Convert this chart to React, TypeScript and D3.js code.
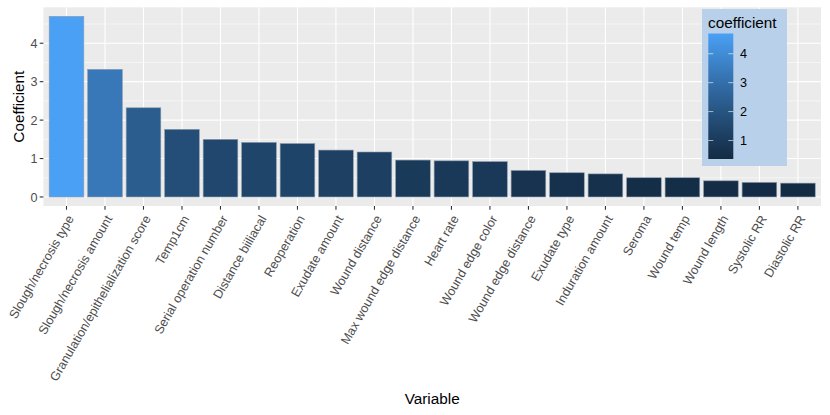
import React from "react";
import * as d3 from "d3";

const categories = [
  "Slough/necrosis type",
  "Slough/necrosis amount",
  "Granulation/epithelialization score",
  "Temp1cm",
  "Serial operation number",
  "Distance biiliacal",
  "Reoperation",
  "Exudate amount",
  "Wound distance",
  "Max wound edge distance",
  "Heart rate",
  "Wound edge color",
  "Wound edge distance",
  "Exudate type",
  "Induration amount",
  "Seroma",
  "Wound temp",
  "Wound length",
  "Systolic RR",
  "Diastolic RR",
];
const coefficients = [4.7, 3.32, 2.32, 1.76, 1.5, 1.42, 1.39, 1.22, 1.17, 0.96, 0.94, 0.92, 0.69, 0.63, 0.6, 0.5, 0.5, 0.42, 0.38, 0.36];
const yTicks = [0, 1, 2, 3, 4];
const yMinor = [0.5, 1.5, 2.5, 3.5, 4.5];
const legendTicks = [1, 2, 3, 4];

const W = 830;
const H = 415;
const panel = { left: 43.4, right: 821, top: 7.3, bottom: 206 };
const FONT = "'Liberation Sans', Arial, sans-serif";
const AX = 12.6;
const TI = 15.3;

export default function App() {
  const minV = d3.min(coefficients) as number;
  const maxV = d3.max(coefficients) as number;
  const lowC = "#132B43";
  const highC = "#4AA0F5";
  const interp = d3.interpolateLab(lowC, highC);
  const color = (v: number) => interp((v - minV) / (maxV - minV));

  const x = d3
    .scaleBand<string>()
    .domain(categories)
    .range([panel.left, panel.right])
    .paddingInner(0.1)
    .paddingOuter(0.15);
  const ext = 0.05 * maxV;
  const y = d3.scaleLinear().domain([-ext, maxV + ext]).range([panel.bottom, panel.top]);

  const legend = { x: 702, y: 9, w: 85, h: 157 };
  const bar = { x: 708.3, y: 33.5, w: 25, h: 125.5 };
  const ly = d3.scaleLinear().domain([minV, maxV]).range([bar.y + bar.h, bar.y]);
  const stops = d3.range(0, 1.0001, 0.05);

  return (
    <div style={{ position: "absolute", left: 0, top: 0 }}>
      <svg width={W} height={H} style={{ display: "block", background: "#fff" }} fontFamily={FONT}>
        <defs>
          <linearGradient id="cbar" x1="0" y1="1" x2="0" y2="0">
            {stops.map((s) => (
              <stop key={s} offset={s} stopColor={interp(s)} />
            ))}
          </linearGradient>
        </defs>
        <rect x={panel.left} y={panel.top} width={panel.right - panel.left} height={panel.bottom - panel.top} fill="#EBEBEB" />
        {yMinor.map((t) => (
          <line key={"m" + t} x1={panel.left} x2={panel.right} y1={y(t)} y2={y(t)} stroke="#fff" strokeWidth={0.55} />
        ))}
        {yTicks.map((t) => (
          <line key={"g" + t} x1={panel.left} x2={panel.right} y1={y(t)} y2={y(t)} stroke="#fff" strokeWidth={1.1} />
        ))}
        {categories.map((c) => {
          const cx = (x(c) as number) + x.bandwidth() / 2;
          return <line key={"v" + c} x1={cx} x2={cx} y1={panel.top} y2={panel.bottom} stroke="#fff" strokeWidth={1.1} />;
        })}
        {categories.map((c, i) => (
          <rect
            key={"b" + c}
            x={x(c)}
            y={y(coefficients[i])}
            width={x.bandwidth()}
            height={y(0) - y(coefficients[i])}
            fill={color(coefficients[i])}
            stroke="#8a9aae"
            strokeWidth={0.6}
          />
        ))}
        {/* y axis */}
        {yTicks.map((t) => (
          <g key={"yt" + t}>
            <line x1={panel.left - 3.7} x2={panel.left} y1={y(t)} y2={y(t)} stroke="#333" strokeWidth={1.1} />
            <text x={panel.left - 6} y={y(t)} dy="0.36em" textAnchor="end" fontSize={AX} fill="#4D4D4D">
              {t}
            </text>
          </g>
        ))}
        {/* x axis */}
        {categories.map((c) => {
          const cx = (x(c) as number) + x.bandwidth() / 2;
          return (
            <g key={"xt" + c}>
              <line x1={cx} x2={cx} y1={panel.bottom} y2={panel.bottom + 3.7} stroke="#333" strokeWidth={1.1} />
              <text
                transform={`translate(${cx},${panel.bottom + 8}) rotate(-60)`}
                dy="0.72em"
                textAnchor="end"
                fontSize={AX}
                fill="#4D4D4D"
              >
                {c}
              </text>
            </g>
          );
        })}
        <text x={(panel.left + panel.right) / 2} y={404} textAnchor="middle" fontSize={TI} fill="#000">
          Variable
        </text>
        <text transform={`translate(23.5,${(panel.top + panel.bottom) / 2}) rotate(-90)`} textAnchor="middle" fontSize={TI} fill="#000">
          Coefficient
        </text>
        {/* legend */}
        <rect x={legend.x} y={legend.y} width={legend.w} height={legend.h} fill="#B9D0EA" />
        <text x={708} y={28} fontSize={TI} fill="#000">
          coefficient
        </text>
        <rect x={bar.x} y={bar.y} width={bar.w} height={bar.h} fill="url(#cbar)" />
        {legendTicks.map((t) => (
          <g key={"lt" + t}>
            <line x1={bar.x} x2={bar.x + 5} y1={ly(t)} y2={ly(t)} stroke="#fff" strokeWidth={0.6} />
            <line x1={bar.x + bar.w - 5} x2={bar.x + bar.w} y1={ly(t)} y2={ly(t)} stroke="#fff" strokeWidth={0.6} />
            <text x={740} y={ly(t)} dy="0.36em" fontSize={AX} fill="#000">
              {t}
            </text>
          </g>
        ))}
      </svg>
    </div>
  );
}
